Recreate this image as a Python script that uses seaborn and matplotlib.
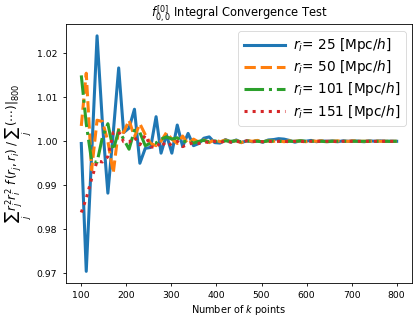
import numpy as np
import pandas as pd
import matplotlib
matplotlib.use("Agg")
import matplotlib.pyplot as plt
import seaborn as sns

k_points = [100, 111, 123, 135, 147, 159, 171, 183, 194, 206, 218, 230, 242, 254, 266,
            277, 289, 301, 313, 325, 337, 349, 361, 372, 384, 396, 408, 420, 432, 444,
            455, 467, 479, 491, 503, 515, 527, 538, 550, 562, 574, 586, 598, 610, 622,
            633, 645, 657, 669, 681, 693, 705, 716, 728, 740, 752, 764, 776, 788, 800]

r25 = [0.9995, 0.9704, 0.9970, 1.0240, 1.0040, 0.9882, 1.0020, 1.0167, 1.0020, 1.0030,
       1.0073, 0.9950, 0.9984, 0.9986, 1.0056, 0.9973, 1.0015, 0.9973, 1.0037, 0.9988,
       1.0018, 0.9990, 0.9995, 1.0007, 1.0010, 0.9997, 0.9996, 1.0004, 0.9998, 1.0003,
       0.9997, 1.0001, 0.9999, 1.0001, 0.9998, 1.0003, 1.0004, 1.0006, 1.0005, 1.0002,
       0.9998, 1.0001, 1.0000, 1.0002, 0.9999, 1.0001, 1.0000, 1.0001, 0.9999, 1.0001,
       1.0000, 1.0001, 1.0000, 0.9999, 1.0001, 1.0000, 1.0001, 1.0000, 1.0000, 1.0000]

r50 = [1.0035, 1.0155, 0.9935, 1.0048, 1.0045, 1.0000, 0.9928, 1.0030, 1.0020, 1.0048,
       1.0010, 1.0040, 1.0015, 0.9995, 0.9990, 1.0000, 1.0020, 1.0005, 0.9995, 1.0012,
       0.9993, 1.0005, 0.9998, 1.0003, 0.9997, 1.0004, 0.9999, 1.0003, 0.9998, 1.0002,
       0.9997, 1.0002, 1.0000, 1.0002, 0.9999, 1.0001, 1.0000, 1.0001, 0.9999, 1.0001,
       1.0000, 1.0001, 0.9999, 1.0001, 1.0000, 1.0001, 1.0000, 1.0000, 1.0001, 1.0000,
       1.0000, 1.0001, 1.0000, 1.0000, 1.0000, 1.0001, 1.0000, 1.0000, 1.0000, 1.0000]

r101 = [1.0150, 1.0040, 0.9955, 0.9952, 1.0010, 1.0040, 0.9980, 1.0025, 1.0005, 0.9982,
        1.0025, 1.0020, 0.9990, 0.9996, 0.9996, 1.0005, 1.0010, 1.0005, 1.0008, 0.9998,
        1.0002, 0.9996, 1.0000, 1.0002, 0.9999, 1.0001, 0.9998, 1.0001, 1.0000, 1.0001,
        0.9999, 1.0001, 1.0000, 1.0000, 0.9999, 1.0001, 1.0000, 1.0000, 0.9999, 1.0000,
        1.0000, 1.0001, 1.0000, 1.0000, 1.0000, 1.0000, 0.9999, 1.0000, 1.0000, 1.0000,
        1.0000, 1.0000, 1.0000, 1.0000, 1.0000, 1.0000, 1.0000, 1.0000, 1.0000, 1.0000]

r151 = [0.9838, 0.9870, 0.9915, 0.9955, 0.9953, 0.9965, 1.0020, 1.0022, 0.9999, 0.9998,
        1.0009, 0.9992, 1.0014, 0.9988, 0.9985, 1.0000, 0.9988, 0.9995, 1.0000, 0.9988,
        0.9993, 0.9997, 0.9995, 0.9999, 0.9997, 1.0000, 0.9997, 1.0001, 0.9998, 1.0000,
        0.9998, 1.0001, 0.9999, 1.0000, 0.9999, 1.0000, 0.9999, 1.0000, 1.0000, 0.9999,
        1.0000, 1.0000, 0.9999, 1.0000, 1.0000, 1.0000, 1.0000, 1.0000, 0.9999, 1.0000,
        1.0000, 1.0000, 1.0000, 1.0000, 1.0000, 1.0000, 1.0000, 1.0000, 1.0000, 1.0000]

labels = [r"$r_i$= 25 [Mpc/$h$]", r"$r_i$= 50 [Mpc/$h$]",
          r"$r_i$= 101 [Mpc/$h$]", r"$r_i$= 151 [Mpc/$h$]"]
series = [r25, r50, r101, r151]
colors = ["#1f77b4", "#ff7f0e", "#2ca02c", "#d62728"]
styles = ["-", "--", "-.", ":"]

fig = plt.figure(figsize=(4.2, 3.21), dpi=100)
ax = fig.add_axes([0.156, 0.118, 0.826, 0.807])

for vals, lab, c, ls in zip(series, labels, colors, styles):
    df = pd.DataFrame({"k": k_points, "v": vals})
    sns.lineplot(data=df, x="k", y="v", ax=ax, color=c, linestyle=ls,
                 linewidth=2.2, label=lab)

ax.set_xticks([100, 200, 300, 400, 500, 600, 700, 800])
ax.set_yticks([0.97, 0.98, 0.99, 1.00, 1.01, 1.02])
ax.tick_params(labelsize=6.7, length=2.5, width=0.6)
for s in ax.spines.values():
    s.set_linewidth(0.6)
ax.set_xlabel("Number of $k$ points", fontsize=7.0, labelpad=2)
ax.set_ylabel(r"$\sum_j\, r_j^2 r_i^2\; f\,(r_j, r_i)\;/\;\sum_j\, (\cdots)|_{800}$",
              fontsize=8.5, labelpad=2)
ax.set_title(r"$f_{0,0}^{[0]}$ Integral Convergence Test", fontsize=8.3, pad=4)
leg = ax.legend(loc="upper right", fontsize=9.8, handlelength=3.0,
                borderpad=0.4, labelspacing=0.3, handletextpad=0.6)
leg.get_frame().set_linewidth(0.6)

fig.savefig("out.png", dpi=100)
